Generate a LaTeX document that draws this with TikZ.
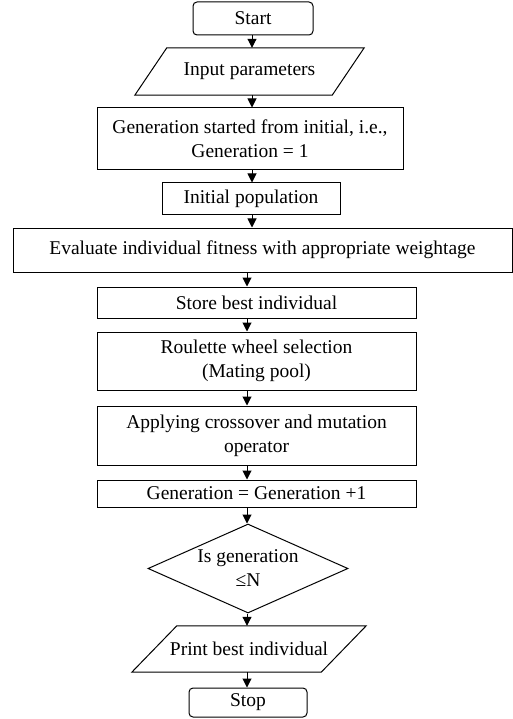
\documentclass[tikz,border=0pt]{standalone}
\usepackage{fontspec}
\setmainfont{Liberation Serif}
\usetikzlibrary{shapes.geometric,arrows.meta}

\tikzset{
 box/.style={draw, line width=1pt, align=center, inner sep=0pt},
 term/.style={box, rounded corners=4pt},
 io/.style={align=center, inner sep=0pt},
 slant/.style={line width=1pt},
 cond/.style={box, diamond, aspect=2.25},
 arr/.style={-{Triangle[length=9pt,width=9pt]}, line width=1pt}
}

\begin{document}
\begin{tikzpicture}[x=1pt,y=-1pt,font=\fontsize{19.5}{24}\selectfont]
\useasboundingbox (0,0) rectangle (513,719);

\coordinate (upper) at (252,0);
\coordinate (lower) at (247,0);

\node [term, minimum width=120pt, minimum height=33pt] (start) at (253,18.5) {Start};
\node [io, minimum width=197pt, minimum height=47pt] (input) at (249.5,71.5) {Input parameters};
\draw [slant] ([xshift=16pt]input.north west) -- ([xshift=16pt]input.north east)
 -- ([xshift=-16pt]input.south east) -- ([xshift=-16pt]input.south west) -- cycle;
\node [box, minimum width=306pt, minimum height=62pt] (gen) at (250,139)
 {Generation started from initial, i.e.,\\ Generation = 1};
\node [box, minimum width=178pt, minimum height=32pt] (init) at (251,199) {Initial population};
\node [box, minimum width=499pt, minimum height=44pt] (eval) at (262.5,250)
 {Evaluate individual fitness with appropriate weightage};
\node [box, minimum width=319pt, minimum height=31pt] (store) at (256.5,302.5) {Store best individual};
\node [box, minimum width=319pt, minimum height=58pt] (select) at (256.5,361)
 {Roulette wheel selection\\ (Mating pool)};
\node [box, minimum width=319pt, minimum height=59pt] (cross) at (256.5,435.5)
 {Applying crossover and mutation\\ operator};
\node [box, minimum width=319pt, minimum height=27pt] (incr) at (256.5,493.5) {Generation = Generation +1};
\node [cond, minimum width=200pt, minimum height=89pt] (check) at (248,568.5)
 {Is generation\\ ≤N};
\node [io, minimum width=189pt, minimum height=46pt] (print) at (249,649) {Print best individual};
\draw [slant] ([xshift=22.5pt]print.north west) -- ([xshift=22.5pt]print.north east)
 -- ([xshift=-22.5pt]print.south east) -- ([xshift=-22.5pt]print.south west) -- cycle;
\node [term, minimum width=118pt, minimum height=29pt] (stop) at (248,702.5) {Stop};

\draw [arr] (upper |- start.south) -- (upper |- input.north);
\draw [arr] (upper |- input.south) -- (upper |- gen.north);
\draw [arr] (upper |- gen.south) -- (upper |- init.north);
\draw [arr] (upper |- init.south) -- (upper |- eval.north);
\draw [arr] (lower |- eval.south) -- (lower |- store.north);
\draw [arr] (lower |- store.south) -- (lower |- select.north);
\draw [arr] (lower |- select.south) -- (lower |- cross.north);
\draw [arr] (lower |- cross.south) -- (lower |- incr.north);
\draw [arr] (lower |- incr.south) -- (lower |- check.north);
\draw [arr] (lower |- check.south) -- (lower |- print.north);
\draw [arr] (lower |- print.south) -- (lower |- stop.north);

\end{tikzpicture}
\end{document}
